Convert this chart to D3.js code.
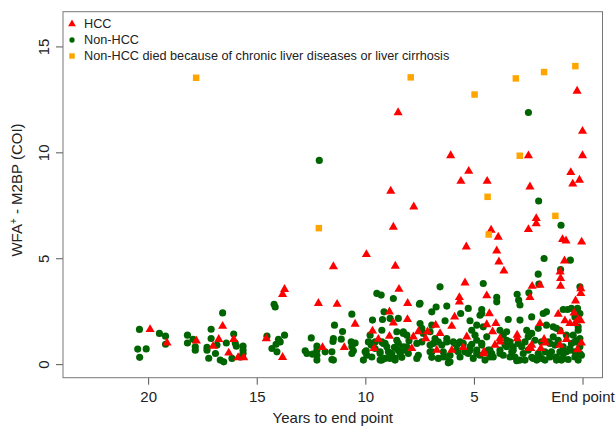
<!DOCTYPE html>
<html lang="en">

<head>
    <meta charset="utf-8">
    <script src="https://d3js.org/d3.v7.min.js"></script>
    <title>WFA+-M2BP by years to end point</title>
    <style>
        body {
            margin: 0;
            padding: 0;
            background: #fff;
        }

        svg {
            display: block;
            font-family: "Liberation Sans", Arial, sans-serif;
        }
    </style>
</head>

<body>
    <svg id="chart" width="615" height="428"></svg>
    <script>

        // [years to end point, WFA+-M2BP (COI)]
        var hcc = [
            [19.91, 1.64], [19.13, 1.0], [17.78, 1.1], [17.01, 0.85], [16.57, 1.79], [16.75, 1.17], [16.06, 1.17],
            [16.29, 0.53], [15.86, 0.31], [15.6, 0.31],
            [13.72, 3.53], [13.81, 3.3], [14.56, 1.21], [13.81, 0.32], [12.16, 2.87], [11.3, 2.83], [11.97, 0.79],
            [10.47, 1.89], [10.97, 0.79], [8.45, 3.54], [8.05, 2.87], [8.89, 2.47], [8.06, 2.11], [8.71, 1.95],
            [9.67, 1.57], [9.4, 1.18], [8.89, 1.32], [9.6, 0.74], [7.56, 1.53], [7.79, 1.29], [7.86, 0.74],
            [5.41, 3.84], [5.67, 3.15], [5.67, 2.94], [4.41, 3.23], [3.62, 4.4], [5.89, 2.23], [6.76, 1.84],
            [7.14, 1.53], [6.56, 1.45], [7.22, 1.21], [6.02, 1.79], [4.29, 2.39], [4.41, 1.87], [3.99, 1.92],
            [4.14, 1.53], [3.8, 1.21], [3.8, 1.05], [4.03, 0.9], [3.01, 1.37], [3.01, 1.21], [6.71, 0.66],
            [6.02, 0.66], [5.49, 0.79], [4.54, 0.58], [4.54, 0.5], [2.46, 0.74], [5.33, 1.29],
            [2.32, 3.68], [1.96, 3.73], [2.42, 3.15],
            [1.03, 4.36], [1.01, 4.05], [1.01, 3.68], [0.08, 3.57], [0.08, 3.34], [0.32, 2.99], [1.12, 2.36],
            [0.39, 2.42], [1.96, 1.92], [0.81, 2.05], [0.58, 1.92], [0.35, 1.92], [0.2, 2.11], [0.08, 2.05],
            [1.0, 1.53], [1.77, 1.17], [1.7, 1.0], [0.74, 1.17], [2.34, 0.9], [2.38, 0.74], [1.92, 0.74],
            [1.04, 0.9], [0.05, 1.0], [0.23, 0.69],
            [8.49, 11.88], [6.07, 9.85], [5.24, 9.11], [5.6, 8.64], [4.39, 8.64], [8.83, 8.17], [7.77, 7.43],
            [8.71, 6.47], [4.21, 6.33], [3.88, 6.0], [5.35, 5.54], [3.95, 5.35], [9.95, 5.18], [3.85, 4.83],
            [11.47, 4.61], [8.62, 4.63], [2.49, 9.84], [2.42, 8.37], [2.49, 6.36], [2.13, 6.88], [2.13, 6.64],
            [0.25, 12.89], [0.0, 11.0], [0.0, 9.85], [0.14, 8.69], [0.54, 9.05], [0.45, 8.51], [0.04, 5.77],
            [0.92, 5.89], [0.76, 5.82], [0.83, 4.88]
        ];

        var nonHcc = [
            [20.4, 1.64], [20.48, 0.71], [20.09, 0.72], [20.39, 0.32], [19.48, 1.45], [19.2, 1.32], [19.2, 0.94],
            [18.19, 1.37], [18.19, 1.0], [17.93, 1.17], [17.83, 0.82], [17.83, 0.66], [17.1, 1.65], [17.1, 1.21],
            [17.29, 0.79], [17.29, 0.66], [17.21, 0.28], [16.9, 0.5], [16.57, 2.42], [16.83, 0.9], [16.68, 0.19],
            [16.52, 0.11], [16.4, 1.0], [16.06, 1.42], [15.99, 1.0], [15.94, 0.85], [15.63, 0.85], [15.63, 0.66],
            [15.63, 0.5], [15.76, 0.34], [16.14, 0.27],
            [14.2, 2.83], [14.15, 2.7], [14.53, 1.32], [14.0, 1.17], [13.92, 1.05], [14.11, 0.94], [14.3, 0.74],
            [14.07, 0.58], [13.72, 1.37], [12.77, 0.63], [12.69, 0.5], [12.49, 1.24], [12.23, 0.85], [12.23, 0.66],
            [12.23, 0.42], [12.23, 0.19], [12.43, 0.47], [11.85, 0.58], [11.54, 0.58], [11.54, 0.22], [11.47, 1.21],
            [11.49, 1.07], [11.42, 1.84], [11.05, 1.54], [11.11, 1.18], [10.62, 2.36], [10.65, 1.05], [10.47, 1.0],
            [10.62, 0.82], [10.55, 0.63], [9.96, 0.63], [9.93, 0.42], [9.86, 1.05], [9.78, 1.37], [9.67, 2.08],
            [9.73, 0.9], [9.21, 2.11], [9.24, 1.6], [9.47, 3.34], [9.27, 3.26], [8.71, 3.1], [9.14, 2.47],
            [8.86, 2.16], [8.48, 2.16], [8.55, 1.53], [8.25, 1.53], [8.09, 1.37], [7.99, 1.1], [9.09, 0.98],
            [9.01, 0.82], [8.94, 0.58], [8.78, 0.5], [8.63, 0.27], [8.86, 0.27], [9.09, 0.27], [9.32, 0.19],
            [8.48, 0.98], [8.48, 0.66], [8.25, 0.66], [8.09, 0.82], [8.02, 0.5], [7.56, 0.42], [7.51, 2.83],
            [7.4, 1.69], [9.7, 0.34], [9.32, 0.58], [9.55, 0.74], [9.55, 1.05], [9.24, 1.05], [8.66, 0.79],
            [8.32, 0.32], [7.63, 0.27],
            [10.55, 0.98], [10.62, 0.5], [10.01, 0.58], [10.09, 0.19], [9.7, 0.98], [9.17, 0.98], [8.86, 0.5],
            [8.63, 0.19], [8.4, 0.5], [8.25, 0.82], [8.55, 1.13], [9.32, 0.5], [9.24, 0.19], [7.63, 0.98],
            [7.4, 1.05], [6.94, 1.84], [6.87, 0.98], [7.02, 0.58], [6.64, 0.27], [8.25, 1.45], [11.47, 0.19],
            [6.56, 3.65], [4.57, 3.81], [3.95, 3.15], [3.95, 2.94], [3.01, 3.3], [2.94, 3.02], [2.88, 2.79],
            [7.48, 2.87], [6.94, 2.47], [6.25, 2.74], [6.74, 2.7], [5.61, 2.39], [5.26, 2.63], [4.64, 2.58],
            [4.72, 2.31], [6.33, 2.05], [5.18, 2.05], [3.42, 2.11], [5.1, 1.6], [4.87, 1.84], [4.95, 1.37],
            [7.48, 1.92], [7.33, 1.45], [7.02, 1.53], [6.79, 1.21], [6.64, 1.05], [7.02, 0.9], [6.94, 0.58],
            [6.94, 0.32], [6.48, 0.9], [6.41, 0.34], [6.1, 0.42], [6.18, 0.06], [6.25, 1.21], [5.95, 1.05],
            [5.79, 0.9], [5.64, 1.05], [5.72, 0.58], [5.41, 0.58], [5.18, 0.66], [5.1, 0.94], [5.03, 0.27],
            [4.72, 0.42], [4.87, 0.66], [4.64, 0.9], [4.34, 0.66], [4.26, 0.34], [4.49, 0.19], [4.18, 0.5],
            [3.8, 0.66], [3.65, 0.42], [3.57, 0.9], [3.34, 1.05], [3.26, 0.58], [3.11, 0.34], [3.19, 0.82],
            [2.8, 0.82], [2.73, 0.5], [2.88, 0.19], [2.65, 1.05], [2.57, 1.6], [2.5, 1.29], [3.65, 1.37],
            [3.49, 1.53], [3.8, 1.6], [3.03, 0.16],
            [6.25, 1.05], [5.87, 0.98], [5.79, 0.66], [6.41, 0.58], [6.25, 0.34], [6.1, 0.11], [5.64, 0.34],
            [5.18, 0.82], [4.87, 1.13], [4.64, 0.98], [4.87, 0.5], [4.26, 0.66], [4.11, 0.34], [3.8, 0.5],
            [3.49, 0.82], [3.34, 0.34], [3.19, 0.66], [2.96, 0.98], [2.88, 2.08], [2.65, 0.19], [4.57, 1.76],
            [3.49, 1.13], [4.64, 2.39], [4.41, 1.29], [5.26, 0.5], [5.49, 0.98],
            [2.04, 4.25], [2.01, 3.78], [2.47, 3.37], [0.12, 3.65], [1.81, 2.39], [1.66, 2.47], [0.89, 2.58],
            [0.69, 2.58], [0.51, 2.63], [0.23, 2.63], [0.35, 2.23], [0.12, 2.39],
            [2.47, 1.37], [2.04, 1.69], [1.66, 1.84], [1.35, 1.76], [1.35, 1.29], [1.2, 1.69], [0.43, 1.37],
            [0.2, 1.6], [0.12, 1.21], [2.19, 1.13], [1.89, 1.05], [1.58, 1.05], [1.12, 1.13], [0.74, 1.37],
            [0.35, 1.05], [0.12, 0.82], [0.58, 0.74], [1.43, 0.58], [1.73, 0.58], [2.04, 0.5], [2.34, 0.32],
            [1.89, 0.27], [1.5, 0.34], [1.2, 0.19], [0.89, 0.27], [0.66, 0.22], [0.35, 0.34], [0.05, 0.42],
            [1.04, 0.58], [0.74, 0.58], [2.5, 0.66], [1.27, 0.9], [0.89, 0.82], [0.35, 0.58], [2.11, 0.19],
            [0.2, 0.19],
            [2.34, 2.23], [2.34, 1.45], [0.28, 1.13], [1.5, 0.98], [0.58, 0.66], [0.89, 0.5], [1.2, 0.34],
            [1.5, 0.42], [1.96, 0.34], [2.27, 0.27], [1.73, 0.19], [0.97, 0.19], [0.12, 0.5], [0.51, 0.98],
            [0.2, 1.76], [1.04, 1.6],
            [12.12, 9.62], [2.49, 11.88], [2.02, 7.7], [0.99, 6.56], [1.77, 4.99], [0.56, 4.91], [1.01, 4.47]
        ];

        var nonHccDied = [
            [17.79, 13.52], [7.91, 13.54], [4.97, 12.73], [3.07, 13.49], [1.77, 13.79], [0.33, 14.07],
            [2.89, 9.84], [4.37, 7.9], [1.25, 7.0], [4.32, 6.12], [12.14, 6.42]
        ];

        var xTicks = [20, 15, 10, 5, 0];
        var xTickLabels = ["20", "15", "10", "5", "End point"];
        var yTicks = [0, 5, 10, 15];
        var legendLabels = ["HCC", "Non-HCC", "Non-HCC died because of chronic liver diseases or liver cirrhosis"];

        var svg = d3.select("#chart");
        var plot = { left: 63, right: 602.5, top: 11.7, bottom: 377.7 };

        // R style: limits 0..23 and 0..16, padded by 4%
        var x = d3.scaleLinear().domain([23.92, -0.92]).range([plot.left, plot.right]);
        var y = d3.scaleLinear().domain([-0.64, 16.64]).range([plot.bottom, plot.top]);

        var tri = d3.symbol().type(d3.symbolTriangle).size(36);
        var dot = d3.symbol().type(d3.symbolCircle).size(40);
        var sq = d3.symbol().type(d3.symbolSquare).size(42);

        var series = [
            { data: nonHcc, sym: dot, color: "#006400" },
            { data: hcc, sym: tri, color: "#ff0000" },
            { data: nonHccDied, sym: sq, color: "#ffa500" }
        ];

        // x axis
        var xAxis = svg.append("g")
            .attr("transform", "translate(0," + plot.bottom + ")")
            .call(d3.axisBottom(x).tickValues(xTicks)
                .tickFormat(function (d, i) { return xTickLabels[i]; })
                .tickSize(7).tickPadding(7));
        xAxis.attr("font-size", null).attr("font-family", null);
        xAxis.select(".domain").remove();
        xAxis.selectAll("line").attr("stroke", "#555");
        xAxis.selectAll("text").attr("fill", "#222").style("font-size", "15px");

        // y axis, labels turned like R's las=0
        var yAxis = svg.append("g")
            .attr("transform", "translate(" + plot.left + ",0)")
            .call(d3.axisLeft(y).tickValues(yTicks).tickSize(7));
        yAxis.attr("font-size", null).attr("font-family", null);
        yAxis.select(".domain").remove();
        yAxis.selectAll("line").attr("stroke", "#555");
        yAxis.selectAll("text")
            .attr("transform", "rotate(-90)")
            .attr("x", 0)
            .attr("y", -19)
            .attr("dy", "0.35em")
            .attr("text-anchor", "middle")
            .attr("fill", "#222")
            .style("font-size", "15px");

        // frame
        svg.append("rect")
            .attr("x", plot.left)
            .attr("y", plot.top)
            .attr("width", plot.right - plot.left)
            .attr("height", plot.bottom - plot.top)
            .attr("fill", "none")
            .attr("stroke", "#777")
            .attr("stroke-width", 1);

        // titles
        svg.append("text")
            .attr("x", (plot.left + plot.right) / 2)
            .attr("y", 423)
            .attr("text-anchor", "middle")
            .attr("fill", "#222")
            .style("font-size", "15px")
            .text("Years to end point");

        var yTitle = svg.append("text")
            .attr("transform", "translate(17,190) rotate(-90)")
            .attr("dy", "0.35em")
            .attr("text-anchor", "middle")
            .attr("fill", "#222")
            .style("font-size", "15px");
        yTitle.append("tspan").text("WFA");
        yTitle.append("tspan").attr("baseline-shift", "super").style("font-size", "10px").text("+");
        yTitle.append("tspan").text(" - M2BP");
        yTitle.append("tspan").attr("dx", 4).text("(COI)");

        // points
        series.forEach(function (s) {
            svg.append("g")
                .selectAll("path")
                .data(s.data)
                .enter()
                .append("path")
                .attr("d", s.sym)
                .attr("transform", function (d) { return "translate(" + x(d[0]) + "," + y(d[1]) + ")"; })
                .attr("fill", s.color);
        });

        // legend
        var legendSyms = [
            d3.symbol().type(d3.symbolTriangle).size(26),
            d3.symbol().type(d3.symbolCircle).size(22),
            d3.symbol().type(d3.symbolSquare).size(30)
        ];
        var legendColors = ["#ff0000", "#006400", "#ffa500"];
        var legend = svg.append("g");
        legendLabels.forEach(function (lab, i) {
            var ly = 24 + i * 16;
            legend.append("path")
                .attr("d", legendSyms[i])
                .attr("transform", "translate(72," + ly + ")")
                .attr("fill", legendColors[i]);
            legend.append("text")
                .attr("x", 84)
                .attr("y", ly)
                .attr("dy", "0.35em")
                .attr("fill", "#222")
                .style("font-size", "12.7px")
                .text(lab);
        });

    </script>
</body>

</html>
